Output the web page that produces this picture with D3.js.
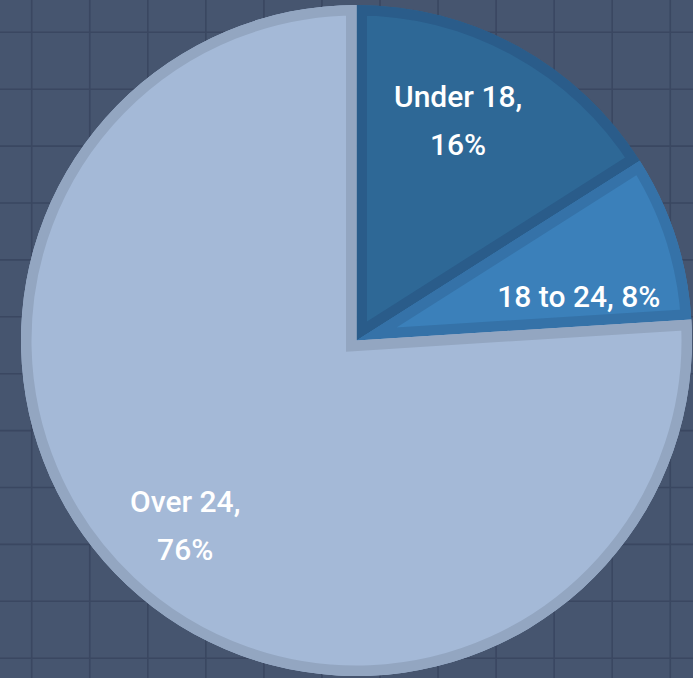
<!DOCTYPE html>
<html>
<head>
<meta charset="utf-8">
<script src="https://cdn.jsdelivr.net/npm/d3@7"></script>
<style>
  html, body { margin: 0; padding: 0; background: #46556f; overflow: hidden; }
  svg { display: block; }
</style>
</head>
<body>
<div id="chart"></div>
<script>
// data
const categories = ["Under 18", "18 to 24", "Over 24"];
const shares = [16, 8, 76];
const labelLines = [["Under 18,", "16%"], ["18 to 24, 8%"], ["Over 24,", "76%"]];

const fills = ["#2e6896", "#3b80ba", "#a4b9d7"];
const strokes = ["#2a5c8a", "#3572a8", "#93a6c1"];

const W = 693, H = 678;
const cx = 356.5, cy = 340.5, R = 335.5;

// small hand nudges so the labels sit where they do in the original
const labelR = 240;
const labelShift = [[-14, -10], [-6, 30], [-7, 10]];

const svg = d3.select("#chart").append("svg")
  .attr("width", W)
  .attr("height", H);

svg.append("rect").attr("width", W).attr("height", H).attr("fill", "#46556f");

// background grid
const gx = d3.range(31.7, W, 58.05);
const gy = d3.range(32.3, H, 56.9);
const grid = svg.append("g").attr("stroke", "#3a4761").attr("stroke-width", 1.6);
grid.selectAll("line.v").data(gx).join("line")
  .attr("class", "v")
  .attr("x1", d => d).attr("x2", d => d)
  .attr("y1", 0).attr("y2", H);
grid.selectAll("line.h").data(gy).join("line")
  .attr("class", "h")
  .attr("y1", d => d).attr("y2", d => d)
  .attr("x1", 0).attr("x2", W);

const pie = d3.pie().sort(null).value(d => d.value);
const arcs = pie(categories.map((c, i) => ({ name: c, value: shares[i], i })));

const arc = d3.arc().innerRadius(0).outerRadius(R);

const g = svg.append("g").attr("transform", `translate(${cx},${cy})`);
const defs = svg.append("defs");

defs.selectAll("clipPath").data(arcs).join("clipPath")
  .attr("id", (d, i) => "clip" + i)
  .append("path")
  .attr("d", arc);

// slice fill, then a thick stroke clipped to the slice so it shows only on the inside
const slices = g.selectAll("g.slice").data(arcs).join("g").attr("class", "slice");
slices.append("path")
  .attr("d", arc)
  .attr("fill", (d, i) => fills[i]);
slices.append("path")
  .attr("d", arc)
  .attr("fill", "none")
  .attr("stroke", (d, i) => strokes[i])
  .attr("stroke-width", 21)
  .attr("stroke-linejoin", "miter")
  .attr("clip-path", (d, i) => `url(#clip${i})`);

// labels
const lh = 48;
const labels = g.selectAll("text.lbl").data(arcs).join("text")
  .attr("class", "lbl")
  .attr("text-anchor", "middle")
  .attr("fill", "#ffffff")
  .style("font-family", "Roboto, 'Open Sans', sans-serif")
  .style("font-size", "30px")
  .style("font-weight", 500)
  .each(function (d, i) {
    const a = (d.startAngle + d.endAngle) / 2;
    const x = Math.sin(a) * labelR + labelShift[i][0];
    const y = -Math.cos(a) * labelR + labelShift[i][1];
    const lines = labelLines[i];
    const y0 = y - (lines.length - 1) * lh / 2 + 10.5;
    d3.select(this).selectAll("tspan").data(lines).join("tspan")
      .attr("x", x)
      .attr("y", (t, k) => y0 + k * lh)
      .text(t => t);
  });
</script>
</body>
</html>
